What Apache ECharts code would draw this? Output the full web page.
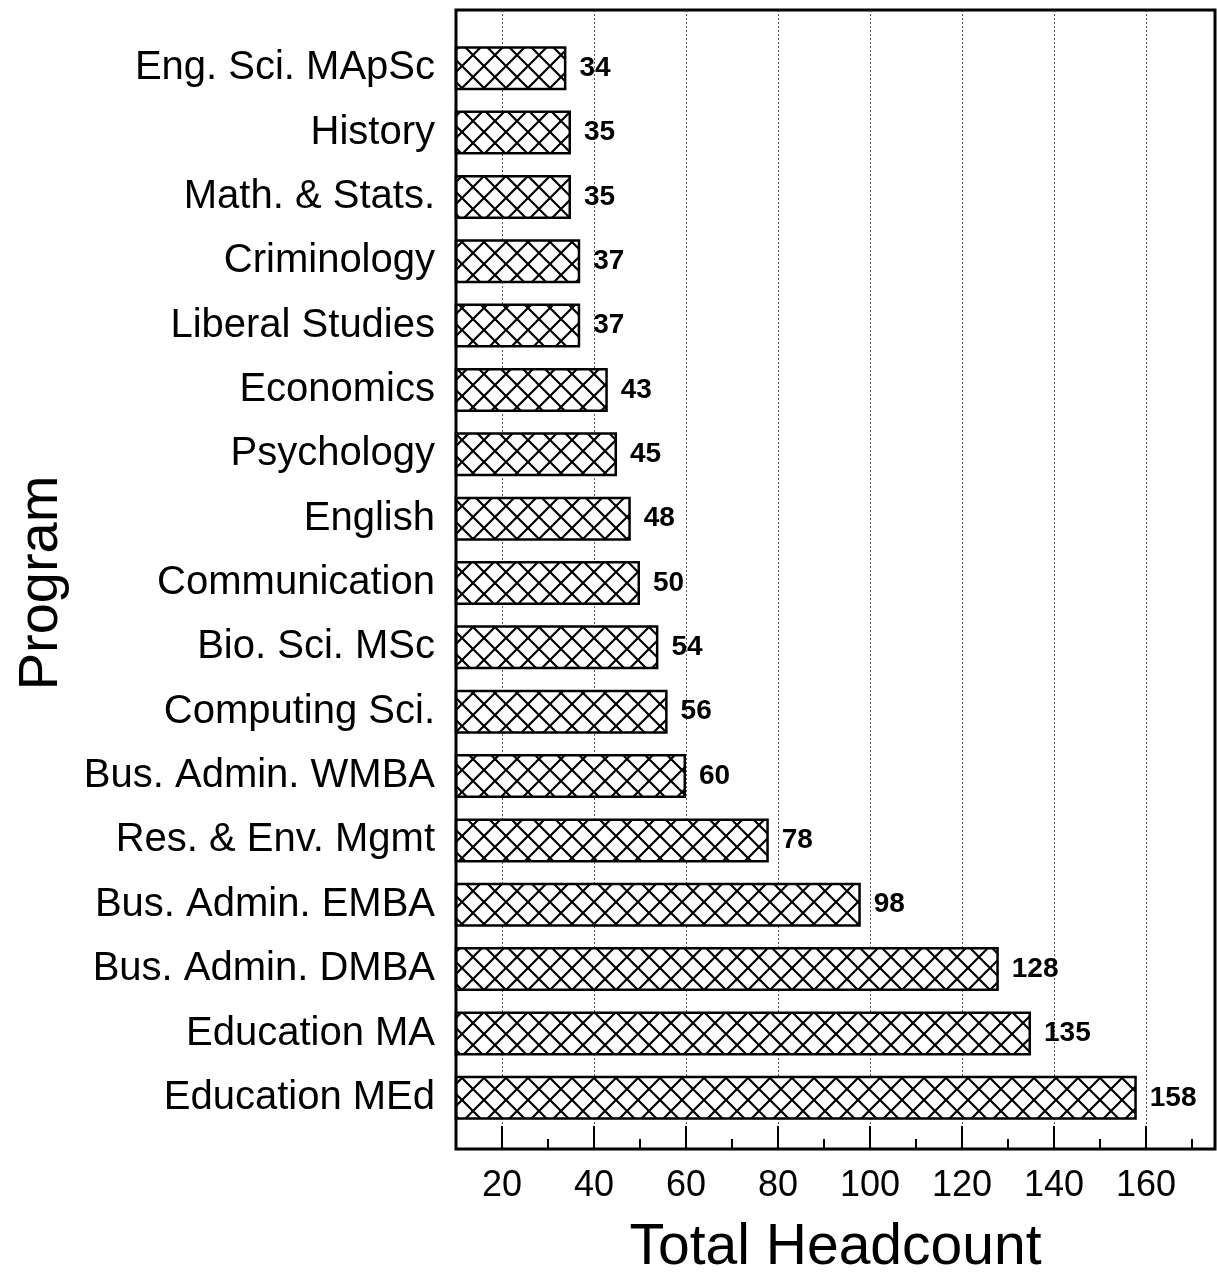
<!DOCTYPE html>
<html>
<head>
<meta charset="utf-8">
<title>Total Headcount by Program</title>
<script src="https://cdn.jsdelivr.net/npm/echarts@6/dist/echarts.min.js"></script>
<style>
  html, body { margin: 0; padding: 0; background: #fff; }
  #chart { width: 1217px; height: 1282px; }
</style>
</head>
<body>
<div id="chart"></div>
<script>
// programs, top to bottom
const categories = [
  'Eng. Sci. MApSc', 'History', 'Math. & Stats.', 'Criminology', 'Liberal Studies',
  'Economics', 'Psychology', 'English', 'Communication', 'Bio. Sci. MSc',
  'Computing Sci.', 'Bus. Admin. WMBA', 'Res. & Env. Mgmt', 'Bus. Admin. EMBA',
  'Bus. Admin. DMBA', 'Education MA', 'Education MEd'
]
const headcount = [34, 35, 35, 37, 37, 43, 45, 48, 50, 54, 56, 60, 78, 98, 128, 135, 158]
const tickValues = [20, 40, 60, 80, 100, 120, 140, 160]
const minorTickValues = [30, 50, 70, 90, 110, 130, 150, 170]

const FONT = '"Liberation Sans", Arial, Helvetica, sans-serif'
const X_MIN = 10
const X_MAX = 175

// cross hatch fill for the bars
function hatch() {
  const s = 22
  const c = document.createElement('canvas')
  c.width = s
  c.height = s
  const ctx = c.getContext('2d')
  ctx.fillStyle = '#fff'
  ctx.fillRect(0, 0, s, s)
  ctx.strokeStyle = '#000'
  ctx.lineWidth = 2.2
  ctx.beginPath()
  for (let dx = -s; dx <= s; dx += s) {
    ctx.moveTo(dx, 0)
    ctx.lineTo(dx + s, s)
    ctx.moveTo(dx + s, 0)
    ctx.lineTo(dx, s)
  }
  ctx.stroke()
  return c
}

const chart = echarts.init(document.getElementById('chart'), null, { renderer: 'canvas' })

chart.setOption({
  animation: false,
  textStyle: { fontFamily: FONT },
  grid: [
    // frame, ticks and grid lines
    { left: 456, right: 2, top: 10, bottom: 129, show: true, borderColor: '#000', borderWidth: 3, z: 5 },
    // bars
    { left: 456, right: 2, top: 36, bottom: 152 }
  ],
  xAxis: [
    {
      gridIndex: 0,
      type: 'value',
      position: 'bottom',
      min: X_MIN,
      max: X_MAX,
      axisLine: { show: false },
      axisTick: { show: true, inside: true, length: 23, customValues: tickValues, lineStyle: { color: '#000', width: 2 } },
      axisLabel: { customValues: tickValues, color: '#000', fontSize: 36, margin: 19, fontFamily: FONT },
      splitLine: { show: true, lineStyle: { color: '#555', width: 1, type: [2, 2] } },
      name: 'Total Headcount',
      nameLocation: 'middle',
      nameGap: 71,
      nameTextStyle: { color: '#000', fontSize: 57, fontFamily: FONT }
    },
    {
      // minor ticks only
      gridIndex: 0,
      type: 'value',
      position: 'bottom',
      min: X_MIN,
      max: X_MAX,
      axisLine: { show: false },
      axisTick: { show: true, inside: true, length: 10, customValues: minorTickValues, lineStyle: { color: '#000', width: 2 } },
      axisLabel: { show: false },
      splitLine: { show: false }
    },
    {
      gridIndex: 1,
      type: 'value',
      min: X_MIN,
      max: X_MAX,
      show: false,
      splitLine: { show: false }
    }
  ],
  yAxis: [
    { gridIndex: 0, type: 'value', show: false, splitLine: { show: false } },
    {
      gridIndex: 1,
      type: 'category',
      inverse: true,
      data: categories,
      axisLine: { show: false },
      axisTick: { show: false },
      axisLabel: { color: '#000', fontSize: 40, margin: 21, fontFamily: FONT },
      name: 'Program',
      nameLocation: 'middle',
      nameRotate: 90,
      nameGap: 386,
      nameTextStyle: { color: '#000', fontSize: 56, fontFamily: FONT }
    }
  ],
  series: [{
    type: 'bar',
    xAxisIndex: 2,
    yAxisIndex: 1,
    data: headcount,
    barWidth: 44,
    clip: true,
    z: 3,
    itemStyle: {
      color: { image: hatch(), repeat: 'repeat' },
      borderColor: '#000',
      borderWidth: 2.5
    },
    label: {
      show: true,
      position: 'right',
      distance: 13,
      color: '#000',
      fontSize: 28,
      fontWeight: 'bold',
      fontFamily: FONT
    }
  }]
})
</script>
</body>
</html>
